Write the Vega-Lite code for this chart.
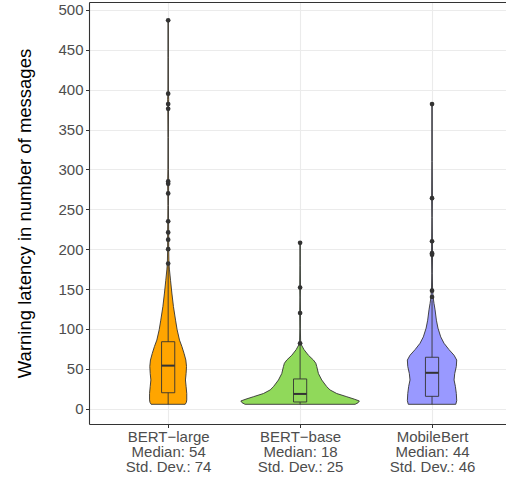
{
  "$schema": "https://vega.github.io/schema/vega-lite/v6.json",
  "autosize": {"type": "none"},
  "padding": {"left": 89, "top": 2, "right": 0, "bottom": 53},
  "width": 417,
  "height": 422,
  "background": "white",
  "config": {
    "view": {"stroke": null},
    "font": "Liberation Sans",
    "axis": {"labelFont": "Liberation Sans", "titleFont": "Liberation Sans"}
  },
  "datasets": {
    "violin": [
      {"g": "BERT-large", "v": 5.5, "w": 0.129}, {"g": "BERT-large", "v": 8, "w": 0.138}, {"g": "BERT-large", "v": 11, "w": 0.141},
      {"g": "BERT-large", "v": 19, "w": 0.141}, {"g": "BERT-large", "v": 28, "w": 0.136}, {"g": "BERT-large", "v": 36, "w": 0.131},
      {"g": "BERT-large", "v": 44, "w": 0.136}, {"g": "BERT-large", "v": 53, "w": 0.139}, {"g": "BERT-large", "v": 61, "w": 0.134},
      {"g": "BERT-large", "v": 69, "w": 0.121}, {"g": "BERT-large", "v": 78, "w": 0.104}, {"g": "BERT-large", "v": 86, "w": 0.086},
      {"g": "BERT-large", "v": 99, "w": 0.068}, {"g": "BERT-large", "v": 111, "w": 0.056}, {"g": "BERT-large", "v": 128, "w": 0.04},
      {"g": "BERT-large", "v": 145, "w": 0.028}, {"g": "BERT-large", "v": 161, "w": 0.018}, {"g": "BERT-large", "v": 174, "w": 0.01},
      {"g": "BERT-large", "v": 182, "w": 0.006}, {"g": "BERT-large", "v": 200, "w": 0.004}, {"g": "BERT-large", "v": 212, "w": 0.004},
      {"g": "BERT-large", "v": 221, "w": 0.004}, {"g": "BERT-large", "v": 236, "w": 0.003}, {"g": "BERT-large", "v": 255, "w": 0.002},
      {"g": "BERT-large", "v": 270, "w": 0.003}, {"g": "BERT-large", "v": 284, "w": 0.004}, {"g": "BERT-large", "v": 300, "w": 0.002},
      {"g": "BERT-large", "v": 340, "w": 0.0015}, {"g": "BERT-large", "v": 378, "w": 0.003}, {"g": "BERT-large", "v": 388, "w": 0.004},
      {"g": "BERT-large", "v": 396, "w": 0.002}, {"g": "BERT-large", "v": 440, "w": 0.0015}, {"g": "BERT-large", "v": 487, "w": 0.0015},
      {"g": "BERT-base", "v": 5.5, "w": 0.417}, {"g": "BERT-base", "v": 7.5, "w": 0.44}, {"g": "BERT-base", "v": 9.7, "w": 0.449},
      {"g": "BERT-base", "v": 12, "w": 0.41}, {"g": "BERT-base", "v": 15, "w": 0.354}, {"g": "BERT-base", "v": 19, "w": 0.278},
      {"g": "BERT-base", "v": 23.5, "w": 0.227}, {"g": "BERT-base", "v": 27.6, "w": 0.202}, {"g": "BERT-base", "v": 36, "w": 0.164},
      {"g": "BERT-base", "v": 44, "w": 0.139}, {"g": "BERT-base", "v": 53, "w": 0.126}, {"g": "BERT-base", "v": 57, "w": 0.119},
      {"g": "BERT-base", "v": 61, "w": 0.101}, {"g": "BERT-base", "v": 67, "w": 0.063}, {"g": "BERT-base", "v": 74, "w": 0.03},
      {"g": "BERT-base", "v": 80, "w": 0.01}, {"g": "BERT-base", "v": 84, "w": 0.004}, {"g": "BERT-base", "v": 100, "w": 0.002},
      {"g": "BERT-base", "v": 120, "w": 0.003}, {"g": "BERT-base", "v": 140, "w": 0.0015}, {"g": "BERT-base", "v": 152, "w": 0.003},
      {"g": "BERT-base", "v": 180, "w": 0.0015}, {"g": "BERT-base", "v": 208, "w": 0.0015},
      {"g": "MobileBert", "v": 5.5, "w": 0.18}, {"g": "MobileBert", "v": 10, "w": 0.187}, {"g": "MobileBert", "v": 19, "w": 0.184},
      {"g": "MobileBert", "v": 28, "w": 0.177}, {"g": "MobileBert", "v": 36, "w": 0.167}, {"g": "MobileBert", "v": 44, "w": 0.172},
      {"g": "MobileBert", "v": 53, "w": 0.184}, {"g": "MobileBert", "v": 61, "w": 0.187}, {"g": "MobileBert", "v": 67, "w": 0.167},
      {"g": "MobileBert", "v": 74, "w": 0.129}, {"g": "MobileBert", "v": 82, "w": 0.091}, {"g": "MobileBert", "v": 90, "w": 0.066},
      {"g": "MobileBert", "v": 101, "w": 0.045}, {"g": "MobileBert", "v": 111, "w": 0.033}, {"g": "MobileBert", "v": 124, "w": 0.023},
      {"g": "MobileBert", "v": 132, "w": 0.015}, {"g": "MobileBert", "v": 140, "w": 0.008}, {"g": "MobileBert", "v": 150, "w": 0.004},
      {"g": "MobileBert", "v": 170, "w": 0.002}, {"g": "MobileBert", "v": 194, "w": 0.004}, {"g": "MobileBert", "v": 210, "w": 0.003},
      {"g": "MobileBert", "v": 240, "w": 0.0015}, {"g": "MobileBert", "v": 264, "w": 0.003}, {"g": "MobileBert", "v": 310, "w": 0.0015},
      {"g": "MobileBert", "v": 382, "w": 0.0015}
    ],
    "box": [
      {"g": "BERT-large", "lower": 5.5, "q1": 20, "median": 54, "q3": 84, "upper": 180},
      {"g": "BERT-base", "lower": 5.5, "q1": 8.4, "median": 18.5, "q3": 37.3, "upper": 80},
      {"g": "MobileBert", "lower": 5.5, "q1": 15.5, "median": 45, "q3": 64.5, "upper": 136}
    ],
    "outliers": [
      {"g": "BERT-large", "val": 182}, {"g": "BERT-large", "val": 200}, {"g": "BERT-large", "val": 212},
      {"g": "BERT-large", "val": 221}, {"g": "BERT-large", "val": 235}, {"g": "BERT-large", "val": 270},
      {"g": "BERT-large", "val": 282}, {"g": "BERT-large", "val": 285}, {"g": "BERT-large", "val": 376},
      {"g": "BERT-large", "val": 382}, {"g": "BERT-large", "val": 395}, {"g": "BERT-large", "val": 487},
      {"g": "BERT-base", "val": 82}, {"g": "BERT-base", "val": 120}, {"g": "BERT-base", "val": 152}, {"g": "BERT-base", "val": 208},
      {"g": "MobileBert", "val": 140}, {"g": "MobileBert", "val": 148}, {"g": "MobileBert", "val": 193},
      {"g": "MobileBert", "val": 195}, {"g": "MobileBert", "val": 210}, {"g": "MobileBert", "val": 264}, {"g": "MobileBert", "val": 382}
    ]
  },
  "resolve": {"axis": {"x": "independent"}},
  "layer": [
    {
      "data": {"name": "violin"},
      "transform": [
        {"calculate": "indexof(['BERT-large','BERT-base','MobileBert'], datum.g) + 1", "as": "idx"},
        {"calculate": "datum.idx - datum.w", "as": "lo"},
        {"calculate": "datum.idx + datum.w", "as": "hi"}
      ],
      "mark": {"type": "area", "orient": "horizontal", "stroke": "#333333", "strokeWidth": 0.9, "fillOpacity": 1},
      "encoding": {
        "y": {
          "field": "v", "type": "quantitative", "sort": null,
          "scale": {"domain": [-19.2, 510], "nice": false, "zero": false},
          "title": "Warning latency in number of messages",
          "axis": {
            "values": [0, 25, 50, 75, 100, 125, 150, 175, 200, 225, 250, 275, 300, 325, 350, 375, 400, 425, 450, 475, 500],
            "labelExpr": "datum.value % 50 === 0 ? datum.label : ''",
            "grid": true, "gridColor": "#EBEBEB",
            "gridWidth": {"condition": {"test": "datum.value % 50 === 0", "value": 1.1}, "value": 0.8},
            "tickOpacity": {"condition": {"test": "datum.value % 50 === 0", "value": 1}, "value": 0},
            "tickColor": "#333333", "tickSize": 3.5, "tickWidth": 1,
            "domainColor": "#333333", "domainWidth": 1.1,
            "labelFontSize": 15, "labelColor": "#4D4D4D", "labelPadding": 2.5,
            "titleFontSize": 18.5, "titleFontWeight": "normal", "titleColor": "#000000", "titlePadding": 23
          }
        },
        "x": {
          "field": "lo", "type": "quantitative",
          "scale": {"domain": [0.4, 3.5606], "nice": false, "zero": false},
          "title": null,
          "axis": {
            "orient": "bottom",
            "values": [1, 2, 3],
            "labelExpr": "datum.value === 1 ? ['BERT−large', 'Median: 54', 'Std. Dev.: 74'] : datum.value === 2 ? ['BERT−base', 'Median: 18', 'Std. Dev.: 25'] : ['MobileBert', 'Median: 44', 'Std. Dev.: 46']",
            "grid": true, "gridColor": "#EBEBEB", "gridWidth": 1.1,
            "tickColor": "#333333", "tickSize": 3.5, "tickWidth": 1,
            "domainColor": "#333333", "domainWidth": 1.1,
            "labelFontSize": 15, "labelColor": "#4D4D4D", "labelPadding": 2, "labelLineHeight": 15
          }
        },
        "x2": {"field": "hi"},
        "fill": {
          "field": "g", "type": "nominal", "legend": null,
          "scale": {"domain": ["BERT-large", "BERT-base", "MobileBert"], "range": ["#FFA500", "#90D95A", "#9999FF"]}
        }
      }
    },
    {
      "data": {"name": "box"},
      "transform": [
        {"calculate": "indexof(['BERT-large','BERT-base','MobileBert'], datum.g) + 1", "as": "idx"}
      ],
      "mark": {"type": "rule", "stroke": "#333333", "strokeWidth": 0.9},
      "encoding": {
        "x": {"field": "idx", "type": "quantitative", "scale": {"domain": [0.4, 3.5606], "nice": false, "zero": false}, "axis": null},
        "y": {"field": "lower", "type": "quantitative", "scale": {"domain": [-19.2, 510], "nice": false, "zero": false}, "title": "Warning latency in number of messages"},
        "y2": {"field": "upper"}
      }
    },
    {
      "data": {"name": "box"},
      "transform": [
        {"calculate": "indexof(['BERT-large','BERT-base','MobileBert'], datum.g) + 1", "as": "idx"},
        {"calculate": "datum.idx - 0.05", "as": "bl"},
        {"calculate": "datum.idx + 0.05", "as": "bh"}
      ],
      "mark": {"type": "rect", "stroke": "#333333", "strokeWidth": 0.9},
      "encoding": {
        "x": {"field": "bl", "type": "quantitative", "scale": {"domain": [0.4, 3.5606], "nice": false, "zero": false}, "axis": null},
        "x2": {"field": "bh"},
        "y": {"field": "q1", "type": "quantitative", "scale": {"domain": [-19.2, 510], "nice": false, "zero": false}, "title": "Warning latency in number of messages"},
        "y2": {"field": "q3"},
        "fill": {"field": "g", "type": "nominal", "legend": null}
      }
    },
    {
      "data": {"name": "box"},
      "transform": [
        {"calculate": "indexof(['BERT-large','BERT-base','MobileBert'], datum.g) + 1", "as": "idx"},
        {"calculate": "datum.idx - 0.05", "as": "bl"},
        {"calculate": "datum.idx + 0.05", "as": "bh"}
      ],
      "mark": {"type": "rule", "stroke": "#333333", "strokeWidth": 2},
      "encoding": {
        "x": {"field": "bl", "type": "quantitative", "scale": {"domain": [0.4, 3.5606], "nice": false, "zero": false}, "axis": null},
        "x2": {"field": "bh"},
        "y": {"field": "median", "type": "quantitative", "scale": {"domain": [-19.2, 510], "nice": false, "zero": false}, "title": "Warning latency in number of messages"}
      }
    },
    {
      "data": {"name": "outliers"},
      "transform": [
        {"calculate": "indexof(['BERT-large','BERT-base','MobileBert'], datum.g) + 1", "as": "idx"}
      ],
      "mark": {"type": "circle", "size": 22, "fill": "#333333", "opacity": 1},
      "encoding": {
        "x": {
          "field": "idx", "type": "quantitative", "scale": {"domain": [0.4, 3.5606], "nice": false, "zero": false},
          "title": null,
          "axis": {"orient": "top", "labels": false, "ticks": false, "grid": false, "domain": true, "domainColor": "#333333", "domainWidth": 1.1}
        },
        "y": {"field": "val", "type": "quantitative", "scale": {"domain": [-19.2, 510], "nice": false, "zero": false}, "title": "Warning latency in number of messages"}
      }
    }
  ]
}
